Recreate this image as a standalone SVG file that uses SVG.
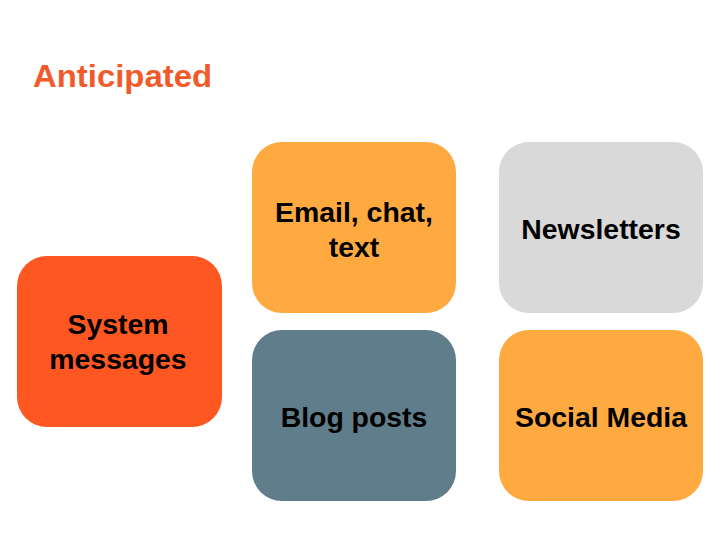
<svg xmlns="http://www.w3.org/2000/svg" width="720" height="540" viewBox="0 0 720 540">
<style>
.lbl{font-family:"Liberation Sans",Arial,sans-serif;font-weight:bold;font-size:28.4px;fill:#000;text-anchor:middle}
.title{font-family:"Liberation Sans",Arial,sans-serif;font-weight:bold;font-size:31px;fill:#F15A2B}
</style>
<rect width="720" height="540" fill="#fff"/>
<text class="title" x="33" y="87" textLength="179" lengthAdjust="spacingAndGlyphs">Anticipated</text>
<g id="connectors"/>
<g id="system-messages">
<rect x="17" y="256" width="205" height="171" rx="30" fill="#FF5722"/>
<text class="lbl" x="118" y="334">System</text>
<text class="lbl" x="118" y="369">messages</text>
</g>
<g id="email-chat-text">
<rect x="252" y="142" width="204" height="171" rx="30" fill="#FFAA40"/>
<text class="lbl" x="354" y="222">Email, chat,</text>
<text class="lbl" x="354" y="257">text</text>
</g>
<g id="newsletters">
<rect x="499" y="142" width="204" height="171" rx="30" fill="#D9D9D9"/>
<text class="lbl" x="601" y="239">Newsletters</text>
</g>
<g id="blog-posts">
<rect x="252" y="330" width="204" height="171" rx="30" fill="#607D8B"/>
<text class="lbl" x="354" y="427">Blog posts</text>
</g>
<g id="social-media">
<rect x="499" y="330" width="204" height="171" rx="30" fill="#FFAA40"/>
<text class="lbl" x="601" y="427">Social Media</text>
</g>
</svg>
